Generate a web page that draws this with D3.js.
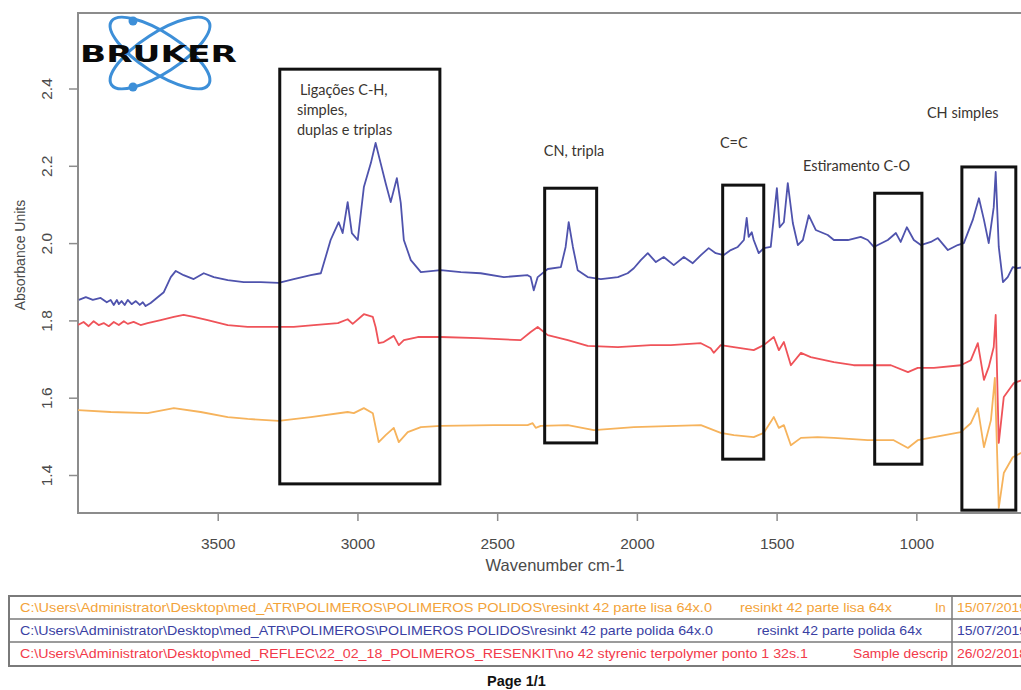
<!DOCTYPE html>
<html>
<head>
<meta charset="utf-8">
<script src="https://cdn.jsdelivr.net/npm/d3@7"></script>
<style>
  body { margin: 0; background: #fff; }
  svg { display: block; }
</style>
</head>
<body>
<svg id="chart" width="1021" height="690"></svg>
<script>
// axis ticks
const xTicks = [3500, 3000, 2500, 2000, 1500, 1000];
const yTicks = [1.4, 1.6, 1.8, 2.0, 2.2, 2.4];

// spectra (wavenumber cm-1, absorbance)
const blueWn = [3997,3972,3947,3919,3897,3883,3872,3861,3854,3844,3833,3822,3808,3793,3779,3768,3758,3740,3715,3693,
  3668,3650,3622,3586,3550,3514,3464,3407,3346,3282,3228,3167,3131,3113,3096,3085,3067,3053,3035,3020,
  2999,2977,2952,2935,2917,2899,2881,2859,2845,2834,2809,2773,2702,2630,2559,2476,2391,2380,2369,2355,
  2319,2272,2255,2244,2229,2212,2176,2129,2068,2033,2011,1986,1961,1932,1904,1868,1832,1800,1771,1743,
  1718,1689,1664,1639,1617,1607,1600,1589,1582,1564,1546,1521,1499,1489,1474,1460,1442,1424,1406,1385,
  1360,1317,1295,1245,1199,1174,1152,1102,1073,1056,1034,1009,984,948,923,887,852,830,798,776,
  758,741,723,716,705,690,673,655,637,619];
const blueAbs = [1.853,1.860,1.853,1.858,1.847,1.853,1.840,1.853,1.842,1.850,1.840,1.853,1.842,1.850,1.840,1.847,1.837,1.845,1.860,1.873,
  1.912,1.928,1.917,1.907,1.922,1.912,1.904,1.899,1.899,1.897,1.907,1.917,1.922,1.966,2.008,2.026,2.054,2.026,2.106,2.026,
  2.008,2.145,2.207,2.259,2.207,2.155,2.106,2.168,2.104,2.008,1.956,1.925,1.930,1.925,1.922,1.912,1.917,1.912,1.878,1.912,
  1.933,1.938,1.990,2.054,1.990,1.930,1.912,1.907,1.912,1.922,1.935,1.956,1.974,1.951,1.964,1.943,1.964,1.948,1.969,1.987,
  1.974,1.969,1.982,1.990,2.008,2.065,2.016,2.028,2.008,1.974,1.987,1.990,2.142,2.041,2.054,2.155,2.052,1.995,2.008,2.072,
  2.034,2.021,2.008,2.008,2.016,2.008,1.990,2.008,2.026,2.003,2.041,2.008,1.995,2.003,2.013,1.982,1.995,2.000,2.060,2.116,
  2.060,2.000,2.093,2.184,1.990,1.899,1.912,1.938,1.935,1.938];

const redWn = [4000,3980,3962,3944,3926,3908,3890,3872,3854,3836,3822,3801,3776,3751,3704,3657,3622,3586,3536,3464,
  3393,3282,3228,3156,3070,3035,3017,2977,2945,2935,2924,2906,2870,2852,2834,2784,2702,2569,2416,2380,
  2355,2319,2247,2176,2068,1950,1879,1771,1736,1725,1700,1653,1582,1546,1510,1492,1474,1449,1413,1378,
  1295,1224,1152,1091,1030,995,937,841,805,780,758,741,723,716,705,687,651,619];
const redAbs = [1.788,1.796,1.785,1.798,1.788,1.793,1.785,1.796,1.788,1.798,1.791,1.796,1.788,1.793,1.801,1.809,1.814,1.809,1.801,1.788,
  1.783,1.783,1.783,1.788,1.793,1.803,1.791,1.816,1.809,1.783,1.741,1.744,1.760,1.736,1.749,1.757,1.757,1.754,1.749,1.770,
  1.783,1.762,1.749,1.734,1.731,1.736,1.736,1.741,1.728,1.716,1.736,1.731,1.723,1.736,1.757,1.723,1.744,1.684,1.716,1.705,
  1.692,1.684,1.684,1.684,1.666,1.677,1.677,1.684,1.697,1.741,1.646,1.679,1.731,1.814,1.483,1.602,1.638,1.646];

const orangeWn = [4000,3883,3751,3657,3561,3464,3393,3282,3167,3035,3013,2977,2945,2924,2899,2870,2852,2820,2773,2702,
  2512,2391,2373,2362,2344,2247,2154,2011,1771,1700,1653,1582,1546,1510,1492,1474,1449,1413,1353,1295,
  1174,1081,1030,995,937,841,805,780,758,733,719,705,687,655,619];
const orangeAbs = [1.568,1.563,1.560,1.573,1.563,1.550,1.545,1.540,1.550,1.563,1.560,1.573,1.560,1.485,1.503,1.522,1.485,1.511,1.524,1.527,
  1.529,1.529,1.534,1.522,1.527,1.529,1.516,1.524,1.529,1.509,1.503,1.498,1.509,1.550,1.522,1.529,1.477,1.496,1.498,1.496,
  1.490,1.490,1.470,1.490,1.498,1.511,1.534,1.573,1.472,1.542,1.651,1.315,1.405,1.446,1.459];

// annotation boxes (wavenumber range, absorbance range) and their captions
const boxWnFrom = [3278, 2330, 1693, 1149, 837];
const boxWnTo   = [2705, 2144, 1546, 980, 644];
const boxAbsTop = [2.450, 2.142, 2.150, 2.129, 2.197];
const boxAbsBot = [1.377, 1.483, 1.441, 1.428, 1.309];
const boxLabels = [["Ligações C-H,", "simples,", "duplas e triplas"], ["CN, tripla"], ["C=C"], ["Estiramento C-O"], ["CH simples"]];
const labelWn  = [3206, 2333, 1703, 1406, 962];
const labelAbs = [2.383, 2.225, 2.246, 2.186, 2.323];

// file table under the chart
const fileNames = [
  "C:\\Users\\Administrator\\Desktop\\med_ATR\\POLIMEROS\\POLIMEROS POLIDOS\\resinkt 42 parte lisa 64x.0",
  "C:\\Users\\Administrator\\Desktop\\med_ATR\\POLIMEROS\\POLIMEROS POLIDOS\\resinkt 42 parte polida 64x.0",
  "C:\\Users\\Administrator\\Desktop\\med_REFLEC\\22_02_18_POLIMEROS_RESENKIT\\no 42 styrenic terpolymer  ponto 1 32s.1"
];
const sampleNames = ["resinkt 42 parte lisa 64x", "resinkt 42 parte polida 64x", "Sample descrip"];
const fileDates = ["15/07/2019", "15/07/2019", "26/02/2018"];

const svg = d3.select('#chart');
const plotLeft = 78, plotTop = 13, plotBottom = 513, plotRight = 1100;

const x = d3.scaleLinear().domain([4000, 400]).range([78, 1084]);
const y = d3.scaleLinear().domain([1.4, 2.4]).range([475, 88.5]);

svg.append('defs').append('clipPath').attr('id', 'plot-clip')
  .append('rect')
  .attr('x', plotLeft).attr('y', plotTop)
  .attr('width', plotRight - plotLeft).attr('height', plotBottom - plotTop);

// frame
svg.append('rect')
  .attr('x', plotLeft).attr('y', plotTop)
  .attr('width', plotRight - plotLeft).attr('height', plotBottom - plotTop)
  .attr('fill', 'none').attr('stroke', '#8c8c8c').attr('stroke-width', 2);

// y axis
const yAxis = svg.append('g')
  .attr('transform', `translate(${plotLeft},0)`)
  .call(d3.axisLeft(y).tickValues(yTicks).tickSize(9).tickFormat(d3.format('.1f')));
yAxis.select('.domain').remove();
yAxis.selectAll('line').attr('stroke', '#8c8c8c').attr('stroke-width', 1.5);
yAxis.selectAll('text')
  .attr('transform', 'rotate(-90)')
  .attr('x', 0).attr('y', -26).attr('dy', 0)
  .attr('text-anchor', 'middle')
  .attr('font-family', 'Liberation Sans, Arial, sans-serif')
  .attr('font-size', 15.5)
  .attr('fill', '#4a4a4a');

// x axis
const xAxis = svg.append('g')
  .attr('transform', `translate(0,${plotBottom})`)
  .call(d3.axisBottom(x).tickValues(xTicks).tickSize(8).tickFormat(d3.format('d')));
xAxis.select('.domain').remove();
xAxis.selectAll('line').attr('stroke', '#8c8c8c').attr('stroke-width', 1.5);
xAxis.selectAll('text')
  .attr('y', 36).attr('dy', 0)
  .attr('font-family', 'Liberation Sans, Arial, sans-serif')
  .attr('font-size', 15.5)
  .attr('fill', '#4a4a4a');

svg.append('text')
  .attr('x', 555).attr('y', 571)
  .attr('text-anchor', 'middle')
  .attr('font-family', 'Liberation Sans, Arial, sans-serif')
  .attr('font-size', 16.5)
  .attr('fill', '#4a4a4a')
  .text('Wavenumber cm-1');

svg.append('text')
  .attr('transform', 'translate(25,255) rotate(-90)')
  .attr('text-anchor', 'middle')
  .attr('font-family', 'Liberation Sans, Arial, sans-serif')
  .attr('font-size', 14)
  .attr('fill', '#4a4a4a')
  .text('Absorbance Units');

// spectra
const line = d3.line().x(d => x(d[0])).y(d => y(d[1]));
const plot = svg.append('g').attr('clip-path', 'url(#plot-clip)');
const series = [
  { wn: orangeWn, abs: orangeAbs, color: '#f6b35c' },
  { wn: blueWn, abs: blueAbs, color: '#4f53ad' },
  { wn: redWn, abs: redAbs, color: '#ef5359' }
];
series.forEach(s => {
  plot.append('path')
    .datum(d3.zip(s.wn, s.abs))
    .attr('d', line)
    .attr('fill', 'none')
    .attr('stroke', s.color)
    .attr('stroke-width', 1.8)
    .attr('stroke-linejoin', 'round');
});

// annotation boxes
boxWnFrom.forEach((w0, i) => {
  svg.append('rect')
    .attr('x', x(w0)).attr('y', y(boxAbsTop[i]))
    .attr('width', x(boxWnTo[i]) - x(w0))
    .attr('height', y(boxAbsBot[i]) - y(boxAbsTop[i]))
    .attr('fill', 'none').attr('stroke', '#111').attr('stroke-width', 3);

  svg.append('g').selectAll('text')
    .data(boxLabels[i])
    .enter()
    .append('text')
    .attr('x', (d, j) => x(labelWn[i]) - (j > 0 ? 3 : 0))
    .attr('y', (d, j) => y(labelAbs[i]) + j * 20)
    .attr('font-family', 'Lato, Carlito, sans-serif')
    .attr('font-size', 14.5)
    .attr('fill', '#3a3530')
    .text(d => d);
});

// Bruker logo
const logo = svg.append('g');
[33, -33].forEach(a => {
  logo.append('ellipse')
    .attr('cx', 160).attr('cy', 53).attr('rx', 58).attr('ry', 20)
    .attr('transform', `rotate(${a},160,53)`)
    .attr('fill', 'none').attr('stroke', '#3d8fd8').attr('stroke-width', 3);
});
[[133, 21], [133, 87]].forEach(p => {
  logo.append('circle').attr('cx', p[0]).attr('cy', p[1]).attr('r', 4.5).attr('fill', '#3d8fd8');
});
logo.append('text')
  .attr('x', 80).attr('y', 62)
  .attr('font-family', 'DejaVu Sans, sans-serif')
  .attr('font-weight', 'bold')
  .attr('font-size', 23)
  .attr('textLength', 157)
  .attr('lengthAdjust', 'spacingAndGlyphs')
  .attr('fill', '#0a0a0a')
  .text('BRUKER');

// table of files
const rowColors = ['#f3a33a', '#3a3fa3', '#f23a4a'];
const table = svg.append('g');
table.append('clipPath').attr('id', 'name-clip')
  .append('rect').attr('x', 9).attr('y', 590).attr('width', 941).attr('height', 80);
table.append('rect')
  .attr('x', 9).attr('y', 596).attr('width', 1040).attr('height', 70)
  .attr('fill', 'none').attr('stroke', '#7a7a7a').attr('stroke-width', 2);
[619, 642].forEach(yy => {
  table.append('line').attr('x1', 9).attr('x2', 1050).attr('y1', yy).attr('y2', yy)
    .attr('stroke', '#7a7a7a').attr('stroke-width', 1.5);
});
table.append('line').attr('x1', 952).attr('x2', 952).attr('y1', 596).attr('y2', 666)
  .attr('stroke', '#7a7a7a').attr('stroke-width', 1.5);

const pathWidths = [692, 693, 788];
const nameX = [740, 757, 853];
const nameWidths = [152, 165, 95];
const tfont = 'Liberation Sans, Arial, sans-serif';
fileNames.forEach((f, i) => {
  const by = 612 + i * 23;
  const g = table.append('g').attr('clip-path', 'url(#name-clip)')
    .attr('font-family', tfont).attr('font-size', 13).attr('fill', rowColors[i])
    .style('white-space', 'pre');
  g.append('text').attr('x', 20).attr('y', by)
    .attr('textLength', pathWidths[i]).attr('lengthAdjust', 'spacingAndGlyphs').text(f);
  g.append('text').attr('x', nameX[i]).attr('y', by)
    .attr('textLength', nameWidths[i]).attr('lengthAdjust', 'spacingAndGlyphs').text(sampleNames[i]);
  if (i === 0) g.append('text').attr('x', 935).attr('y', by).text('In');
  table.append('text').attr('x', 957).attr('y', by)
    .attr('font-family', tfont).attr('font-size', 13).attr('fill', rowColors[i])
    .attr('textLength', 70).attr('lengthAdjust', 'spacingAndGlyphs')
    .text(fileDates[i]);
});

svg.append('text')
  .attr('x', 487).attr('y', 686)
  .attr('font-family', tfont).attr('font-weight', 'bold').attr('font-size', 14.5)
  .attr('fill', '#111')
  .text('Page 1/1');
</script>
</body>
</html>
